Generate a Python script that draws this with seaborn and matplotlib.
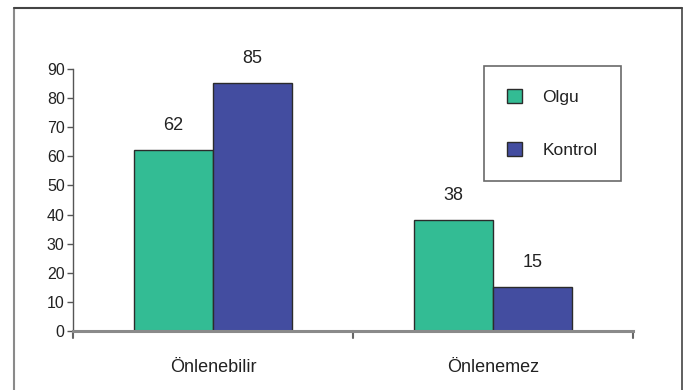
import matplotlib
matplotlib.use("Agg")
import matplotlib.pyplot as plt
from matplotlib.lines import Line2D
from matplotlib.patches import Patch
import seaborn as sns
import pandas as pd

categories = ["Önlenebilir", "Önlenemez"]
groups = ["Olgu", "Kontrol"]
olgu = [62, 38]
kontrol = [85, 15]
yticks = [0, 10, 20, 30, 40, 50, 60, 70, 80, 90]

colors = {"Olgu": "#33bc94", "Kontrol": "#434da0"}

df = pd.DataFrame({
    "kategori": categories * 2,
    "grup": ["Olgu"] * len(categories) + ["Kontrol"] * len(categories),
    "deger": olgu + kontrol,
})

sns.set_theme(style="white")
plt.rcParams["font.family"] = ["Liberation Sans", "DejaVu Sans"]

fig = plt.figure(figsize=(6.86, 3.90), dpi=100)
ax = fig.add_axes([0.1064, 0.1513, 0.8163, 0.672])

sns.barplot(data=df, x="kategori", y="deger", hue="grup", order=categories,
            hue_order=groups, palette=colors, width=0.565, saturation=1,
            edgecolor="#2b2b2b", linewidth=1.0, ax=ax, legend=False)

# value labels above each bar
for container in ax.containers:
    ax.bar_label(container, fmt="%d", padding=12, fontsize=13, color="#222222")

ax.set_xlim(-0.5, 1.5)
ax.set_ylim(0, 90)
ax.set_yticks(yticks)
ax.set_yticklabels([str(v) for v in yticks], fontsize=11.5, color="#222222")
ax.set_xlabel("")
ax.set_ylabel("")

# category labels below the axis, ticks at category boundaries
ax.set_xticks([0, 1])
ax.set_xticklabels(categories, fontsize=13, color="#222222")
ax.tick_params(axis="x", length=0, pad=20)
for xb in [-0.5, 0.5, 1.5]:
    ax.plot([xb, xb], [0, -0.028], transform=ax.get_xaxis_transform(),
            color="#666666", lw=1.5, clip_on=False)

ax.tick_params(axis="y", length=4, width=1, color="#555555", left=True, pad=2)
for side in ["top", "right"]:
    ax.spines[side].set_visible(False)
ax.spines["left"].set_color("#555555")
ax.spines["left"].set_linewidth(1.0)
ax.spines["bottom"].set_color("#8a8a8a")
ax.spines["bottom"].set_linewidth(2.2)
ax.grid(False)

# legend box
handles = [Patch(facecolor=colors[g], edgecolor="#2b2b2b", linewidth=1.0, label=g)
           for g in groups]
leg = ax.legend(handles=handles, loc="upper left", bbox_to_anchor=(0.734, 1.0115),
                frameon=True, fancybox=False, fontsize=12.5, labelspacing=2.1,
                borderpad=1.35, handlelength=0.85, handleheight=0.85,
                handletextpad=1.15, borderaxespad=0)
leg.get_frame().set_edgecolor("#444444")
leg.get_frame().set_linewidth(1.2)
for t in leg.get_texts():
    t.set_color("#222222")

# outer frame (open at the bottom)
fig.add_artist(Line2D([14 / 686, 14 / 686], [0, 1 - 8 / 390],
                      transform=fig.transFigure, color="#8a8a8a", lw=1.5))
fig.add_artist(Line2D([14 / 686, 682 / 686], [1 - 8 / 390, 1 - 8 / 390],
                      transform=fig.transFigure, color="#444444", lw=1.5))
fig.add_artist(Line2D([682 / 686, 682 / 686], [0, 1 - 8 / 390],
                      transform=fig.transFigure, color="#444444", lw=1.2))

fig.savefig("out.png", dpi=100)
